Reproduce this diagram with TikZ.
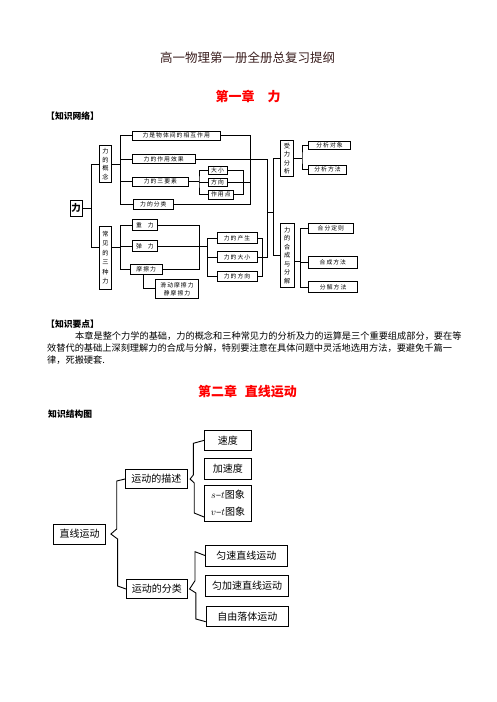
\documentclass[tikz,border=0pt]{standalone}
\usepackage{fontspec}
\setmainfont{Noto Sans CJK SC}
\newfontfamily\boxfont{Noto Sans CJK SC}[LetterSpace=18]
\usetikzlibrary{arrows}
\definecolor{chapred}{HTML}{FF0000}
\definecolor{titleink}{HTML}{3A1E1E}
\tikzstyle{link} = [line width=0.7pt]
\tikzstyle{item} = [draw, line width=0.7pt, anchor=west, inner sep=0pt,
  minimum height=9pt, font=\boxfont\fontsize{5.8}{7}\selectfont]
\tikzstyle{column} = [draw, line width=0.7pt, inner sep=0pt, align=center,
  minimum width=12.5pt, font=\boxfont\fontsize{6.2}{8.5}\selectfont]
\tikzstyle{topic} = [draw, line width=0.9pt, anchor=west, inner sep=0pt,
  minimum height=20pt, font=\fontsize{10}{14}\selectfont]
\tikzstyle{brace} = [line width=0.9pt]
\tikzstyle{heading} = [font=\bfseries\fontsize{13}{15}\selectfont, text=chapred]
\tikzstyle{sechead} = [anchor=west, inner sep=0pt, font=\bfseries\fontsize{8.8}{10}\selectfont]

\begin{document}
\begin{tikzpicture}[x=1pt,y=-1pt]
    \fill[white] (0,0) rectangle (496,702);
    \useasboundingbox (0,0) rectangle (496,702);

    % headings
    \node[text=titleink, font=\fontsize{12.5}{14}\selectfont] (title) at (247.5,58)
        {高一物理第一册全册总复习提纲};
    \node[heading] (chap1) at (248,97) {第一章\hspace{1em}力};
    \node[sechead] (net) at (46,116) {【知识网络】};

    % chapter 1: network
    \node[draw, line width=0.9pt, minimum width=12pt, minimum height=16pt, inner sep=0pt,
        font=\bfseries\fontsize{9.5}{10}\selectfont] (li) at (76,208) {力};
    \node[column, minimum height=36.6pt] (gainian) at (105.5,164) {力\\的\\概\\念};
    \node[column, minimum height=63pt, font=\boxfont\fontsize{6.2}{9.5}\selectfont]
        (changjian) at (105.5,257.5) {常\\见\\的\\三\\种\\力};
    \node[column, minimum height=36.6pt] (shouli) at (287,158.5) {受\\力\\分\\析};
    \node[column, minimum width=13.3pt, minimum height=64pt]
        (hecheng) at (287.3,255.3) {力\\的\\合\\成\\与\\分\\解};

    \node[item, minimum width=88.3pt] (xianghu) at (131.7,135.5) {力是物体间的相互作用};
    \node[item, minimum width=63.3pt] (xiaoguo) at (131.7,159) {力的作用效果};
    \node[item, minimum width=56.6pt] (sanyaosu) at (131.7,181.5) {力的三要素};
    \node[item, minimum width=40.6pt, minimum height=10pt] (fenlei) at (132.7,204) {力的分类};
    \node[item, minimum width=19pt, minimum height=8pt] (daxiao) at (207.7,170) {大小};
    \node[item, minimum width=19pt, minimum height=8.4pt] (fangxiang) at (207.7,182.5) {方向};
    \node[item, minimum width=25.6pt] (zuoyongdian) at (207.7,194.5) {作用点};

    \node[item, minimum width=25.6pt, minimum height=11.4pt] (zhongli) at (131.7,225) {重\quad 力};
    \node[item, minimum width=25.6pt, minimum height=11pt] (tanli) at (131.7,246) {弹\quad 力};
    \node[item, minimum width=31.7pt, minimum height=10pt] (mocaili) at (130,269.5) {摩擦力};
    \node[item, minimum width=43.3pt, minimum height=19pt, align=center,
        font=\boxfont\fontsize{5.8}{8}\selectfont] (huadong) at (155,288.8) {滑动摩擦力\\静摩擦力};
    \node[item, minimum width=40pt, minimum height=10.6pt] (chansheng) at (216.7,238) {力的产生};
    \node[item, minimum width=40pt, minimum height=11pt] (daxiao2) at (216.7,257) {力的大小};
    \node[item, minimum width=40pt, minimum height=10pt] (fangxiang2) at (216.7,276.7) {力的方向};

    \node[item, minimum width=41.7pt, minimum height=8.3pt] (duixiang) at (308.3,145.5) {分析对象};
    \node[item, minimum width=37.7pt] (fangfa) at (308.3,169.5) {分析方法};
    \node[item, minimum width=44.4pt, minimum height=10pt] (dingze) at (308.3,228.3) {合分定则};
    \node[item, minimum width=48.4pt, minimum height=12pt] (hechengff) at (308.3,262.2) {合成方法};
    \node[item, minimum width=49pt, minimum height=11pt] (fenjieff) at (308.3,287.2) {分解方法};

    % connectors of the network
    \draw[link] (gainian.west) -- ++(-7.6,0) coordinate (lt) |- ([yshift=10pt]changjian.west);
    \draw[link] (li.east) -- (li.east -| lt);

    \draw[link] (gainian.east) -- ++(8.3,0) coordinate (gt);
    \draw[link] (xianghu.west) -| (gt) |- (fenlei.west);
    \draw[link] (xiaoguo.west) -- (xiaoguo.west -| gt);
    \draw[link] (sanyaosu.west) -- (sanyaosu.west -| gt);

    \draw[link] (sanyaosu.east) -- ++(10,0) coordinate (st);
    \draw[link] (daxiao.west) -| (st) |- (zuoyongdian.west);
    \draw[link] (fangxiang.west) -- (fangxiang.west -| st);
    \draw[link] (daxiao.east) -- ++(16,0) coordinate (et) |- (zuoyongdian.east);

    \draw[link] (xianghu.east) -- ++(30,0) coordinate (rt) |- (fenlei.east);
    \draw[link] (fangxiang.east) -- (fangxiang.east -| rt);
    \draw[link] (xiaoguo.east) -- ++(72,0) coordinate (xt) |- (daxiao2.east);

    \draw[link] ([yshift=10pt]changjian.east) -- ++(8.3,0) coordinate (ct);
    \draw[link] (zhongli.west) -| (ct) |- (mocaili.west);
    \draw[link] (tanli.west) -- (tanli.west -| ct);
    \draw[link] (zhongli.east) -- ++(41,0) coordinate (zt) |- (mocaili.east);
    \draw[link] (tanli.east) -- ++(49.4,0) coordinate (tt);
    \draw[link] (chansheng.west) -| (tt) |- (fangxiang2.west);
    \draw[link] (daxiao2.west) -- (daxiao2.west -| tt);
    \draw[link] ([xshift=-2.5pt]mocaili.south) |- (huadong.west);
    \draw[link] (chansheng.east) -- ++(5,0) coordinate (ft) |- (fangxiang2.east);

    \draw[link] (shouli.west) -- ++(-7.4,0) coordinate (yt) |- (hecheng.west);
    \draw[link] (xt |- 0,212) -- (yt |- 0,212);
    \draw[link] (shouli.east) -- ++(8.4,0) coordinate (sft);
    \draw[link] (duixiang.west) -| (sft) |- (fangfa.west);
    \draw[link] ([yshift=-6pt]hecheng.east) -- ++(6,0) coordinate (ht);
    \draw[link] (dingze.west) -| (ht) |- (fenjieff.west);
    \draw[link] (hechengff.west) -- (hechengff.west -| ht);

    % key points
    \node[sechead] (points) at (46,324) {【知识要点】};
    \node[anchor=north west, align=left, inner sep=0pt, font=\fontsize{9.2}{12}\selectfont]
        (summary) at (47,331.5)
        {\hspace*{28pt}本章是整个力学的基础，力的概念和三种常见力的分析及力的运算是三个重要组成部分，要在等\\
         效替代的基础上深刻理解力的合成与分解，特别要注意在具体问题中灵活地选用方法，要避免千篇一\\
         律，死搬硬套.};

    % chapter 2
    \node[heading] (chap2) at (247.5,392) {第二章\hspace{0.6em}直线运动};
    \node[sechead] (structure) at (48,414) {知识结构图};

    \node[topic, minimum width=51.7pt] (zhixian) at (53.3,534) {直线运动};
    \node[topic, minimum width=61.7pt, minimum height=19pt] (miaoshu) at (125,479) {运动的描述};
    \node[topic, minimum width=60.7pt, minimum height=18.3pt] (fenlei2) at (126,589) {运动的分类};
    \node[topic, minimum width=46.4pt, minimum height=20.7pt] (sudu) at (204.3,440.3) {速度};
    \node[topic, minimum width=46.4pt, minimum height=21pt] (jiasudu) at (204.3,468.8) {加速度};
    \node[topic, minimum width=46.4pt, minimum height=36.7pt, align=center,
        font=\fontsize{10}{17}\selectfont] (tuxiang) at (204.3,503.3) {$s$–$t$图象\\$v$–$t$图象};
    \node[topic, minimum width=81.7pt, minimum height=21pt] (yunsu) at (205,555.5) {匀速直线运动};
    \node[topic, minimum width=83.3pt, minimum height=21.7pt] (yunjia) at (205,586) {匀加速直线运动};
    \node[topic, minimum width=82.6pt] (ziyou) at (205.7,616.7) {自由落体运动};

    \draw[brace] (miaoshu.west) -- ++(-8.3,2) -- ++(0,48) -- ([xshift=5pt]zhixian.east)
        -- ++(6.7,5) -- ++(0,47) -- (fenlei2.west);
    \draw[brace] (sudu.west) -- ++(-11,3) -- ++(0,31.7) -- ([xshift=2.5pt]miaoshu.east)
        -- ++(4.1,4) -- ++(0,30) -- ([yshift=5pt]tuxiang.south west);
    \draw[brace] (yunsu.west) -- ++(-10,-3.8) -- ++(0,29) -- ([xshift=2pt]fenlei2.east)
        -- ++(6.3,4) -- ++(0,26) -- ([yshift=-5pt]ziyou.west);
\end{tikzpicture}
\end{document}
